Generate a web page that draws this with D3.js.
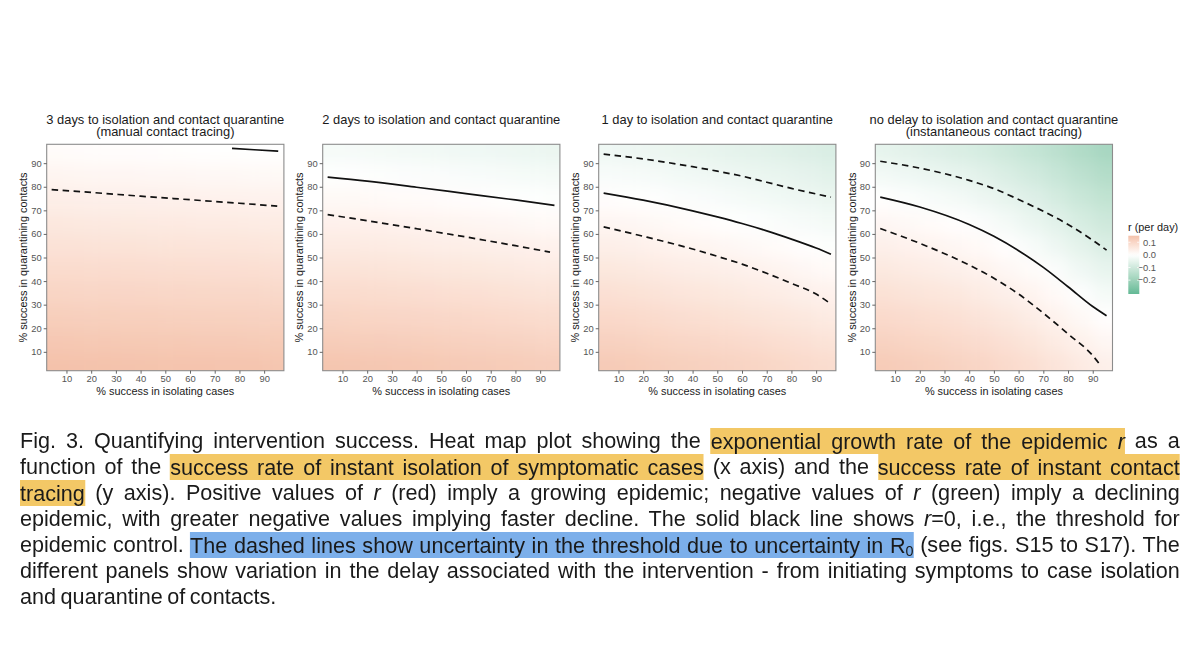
<!DOCTYPE html>
<html>
<head>
<meta charset="utf-8">
<script src="https://cdn.jsdelivr.net/npm/d3@7"></script>
<style>
  html, body { margin: 0; padding: 0; background: #ffffff; }
  body { width: 1200px; height: 659px; position: relative; overflow: hidden; }
  #chart { position: absolute; left: 0; top: 0; }
  #caption { position: absolute; left: 20px; top: 428px; width: 1208px; transform: scaleX(0.96); transform-origin: 0 0;
             font-family: "Liberation Sans", Arial, sans-serif; font-size: 22.5px; color: #1a1a1a; word-spacing: -1.5px; }
  #caption .ln { height: 26px; line-height: 26px; white-space: nowrap; text-align: justify; text-align-last: justify; }
  #caption .ln.last { text-align-last: left; }
  #caption .y { background: #f3c866; padding: 0.5px 0; }
  #caption .b { background: #7cafea; padding: 0.5px 0; }
  #caption sub { font-size: 15px; vertical-align: -3px; line-height: 0; }
</style>
</head>
<body>
<svg id="chart" width="1200" height="659"></svg>
<div id="caption"></div>
<script>
// ---------------- data ----------------
const xTicks = [10, 20, 30, 40, 50, 60, 70, 80, 90];
const yTicks = [10, 20, 30, 40, 50, 60, 70, 80, 90];
const legendTicks = [0.1, 0.0, -0.1, -0.2];
const legendLabels = ["0.1", "0.0", "\u22120.1", "\u22120.2"];

const panelTitles = [
  ["3 days to isolation and contact quarantine", "(manual contact tracing)"],
  ["2 days to isolation and contact quarantine"],
  ["1 day to isolation and contact quarantine"],
  ["no delay to isolation and contact quarantine", "(instantaneous contact tracing)"]
];

// heat-map grid (centres), rows listed from top (y=95) to bottom (y=5)
const gridX = [5, 15, 25, 35, 45, 55, 65, 75, 85, 95];
const gridY = [95, 85, 75, 65, 55, 45, 35, 25, 15, 5];

const rPanel1 = [
  [0.008, 0.007, 0.006, 0.005, 0.004, 0.003, 0.002, 0.001, 0.000, -0.001],
  [0.024, 0.023, 0.022, 0.021, 0.020, 0.019, 0.018, 0.017, 0.016, 0.015],
  [0.040, 0.039, 0.038, 0.037, 0.036, 0.035, 0.034, 0.033, 0.032, 0.031],
  [0.056, 0.055, 0.054, 0.053, 0.052, 0.051, 0.050, 0.049, 0.048, 0.047],
  [0.072, 0.071, 0.070, 0.069, 0.068, 0.067, 0.066, 0.065, 0.064, 0.063],
  [0.088, 0.087, 0.086, 0.085, 0.084, 0.083, 0.082, 0.081, 0.080, 0.079],
  [0.104, 0.103, 0.102, 0.101, 0.100, 0.099, 0.098, 0.097, 0.096, 0.095],
  [0.120, 0.119, 0.118, 0.117, 0.116, 0.115, 0.114, 0.113, 0.112, 0.111],
  [0.136, 0.135, 0.134, 0.133, 0.132, 0.131, 0.130, 0.129, 0.128, 0.127],
  [0.152, 0.151, 0.150, 0.149, 0.148, 0.147, 0.146, 0.145, 0.144, 0.143]
];
const rPanel2 = [
  [-0.020, -0.021, -0.023, -0.025, -0.027, -0.030, -0.032, -0.035, -0.038, -0.041],
  [-0.002, -0.003, -0.005, -0.007, -0.009, -0.012, -0.014, -0.017, -0.020, -0.023],
  [0.016, 0.015, 0.013, 0.011, 0.009, 0.006, 0.004, 0.001, -0.002, -0.005],
  [0.034, 0.033, 0.031, 0.029, 0.027, 0.024, 0.022, 0.019, 0.016, 0.013],
  [0.052, 0.051, 0.049, 0.047, 0.045, 0.042, 0.040, 0.037, 0.034, 0.031],
  [0.070, 0.069, 0.067, 0.065, 0.063, 0.060, 0.058, 0.055, 0.052, 0.049],
  [0.088, 0.087, 0.085, 0.083, 0.081, 0.078, 0.076, 0.073, 0.070, 0.067],
  [0.106, 0.105, 0.103, 0.101, 0.099, 0.096, 0.094, 0.091, 0.088, 0.085],
  [0.124, 0.123, 0.121, 0.119, 0.117, 0.114, 0.112, 0.109, 0.106, 0.103],
  [0.142, 0.141, 0.139, 0.137, 0.135, 0.132, 0.130, 0.127, 0.124, 0.121]
];
const rPanel3 = [
  [-0.032, -0.035, -0.039, -0.044, -0.048, -0.053, -0.058, -0.064, -0.070, -0.077],
  [-0.014, -0.017, -0.021, -0.026, -0.030, -0.035, -0.040, -0.046, -0.052, -0.059],
  [0.004, 0.001, -0.003, -0.008, -0.012, -0.017, -0.022, -0.028, -0.034, -0.041],
  [0.022, 0.019, 0.015, 0.010, 0.006, 0.001, -0.004, -0.010, -0.016, -0.023],
  [0.040, 0.037, 0.033, 0.028, 0.024, 0.019, 0.014, 0.008, 0.002, -0.005],
  [0.058, 0.055, 0.051, 0.046, 0.042, 0.037, 0.032, 0.026, 0.020, 0.013],
  [0.076, 0.073, 0.069, 0.064, 0.060, 0.055, 0.050, 0.044, 0.038, 0.031],
  [0.094, 0.091, 0.087, 0.082, 0.078, 0.073, 0.068, 0.062, 0.056, 0.049],
  [0.112, 0.109, 0.105, 0.100, 0.096, 0.091, 0.086, 0.080, 0.074, 0.067],
  [0.130, 0.127, 0.123, 0.118, 0.114, 0.109, 0.104, 0.098, 0.092, 0.085]
];
const rPanel4 = [
  [-0.051, -0.058, -0.066, -0.075, -0.086, -0.101, -0.118, -0.138, -0.160, -0.179],
  [-0.025, -0.032, -0.040, -0.049, -0.060, -0.075, -0.092, -0.112, -0.134, -0.153],
  [0.001, -0.006, -0.014, -0.023, -0.034, -0.049, -0.066, -0.086, -0.108, -0.127],
  [0.019, 0.014, 0.008, 0.002, -0.008, -0.023, -0.040, -0.060, -0.082, -0.101],
  [0.037, 0.032, 0.026, 0.020, 0.012, 0.002, -0.014, -0.034, -0.056, -0.075],
  [0.055, 0.050, 0.044, 0.038, 0.030, 0.020, 0.008, -0.008, -0.030, -0.049],
  [0.073, 0.068, 0.062, 0.056, 0.048, 0.038, 0.026, 0.012, -0.004, -0.023],
  [0.091, 0.086, 0.080, 0.074, 0.066, 0.056, 0.044, 0.030, 0.015, 0.002],
  [0.109, 0.104, 0.098, 0.092, 0.084, 0.074, 0.062, 0.048, 0.033, 0.020],
  [0.127, 0.122, 0.116, 0.110, 0.102, 0.092, 0.080, 0.066, 0.051, 0.038]
];

// threshold lines: solid r = 0, dashed = uncertainty in R0
const p1SolidX = [77, 86, 95.7];
const p1SolidY = [96.3, 95.7, 95.1];
const p1DashX = [4, 20, 40, 60, 80, 95.3];
const p1DashY = [78.8, 77.6, 76.0, 74.5, 73.0, 71.8];

const p2SolidX = [4, 20, 40, 60, 80, 95.8];
const p2SolidY = [84.1, 82.4, 79.8, 77.1, 74.4, 72.1];
const p2DashX = [4, 20, 40, 60, 80, 94];
const p2DashY = [68.2, 65.6, 62.2, 58.7, 55.0, 52.3];

const p3SolidX = [4, 20, 40, 50, 60, 70, 80, 90, 96];
const p3SolidY = [77.3, 74.3, 69.8, 67.2, 64.4, 61.3, 57.8, 54.0, 51.4];
const p3DashHiX = [4, 20, 40, 50, 60, 70, 80, 96];
const p3DashHiY = [93.8, 91.8, 88.5, 86.6, 84.5, 81.9, 79.3, 75.6];
const p3DashLoX = [4, 20, 40, 50, 60, 70, 80, 90, 95];
const p3DashLoY = [63.0, 59.0, 53.6, 50.5, 47.2, 43.3, 39.0, 34.5, 31.0];

const p4SolidX = [4, 20, 40, 50, 60, 70, 80, 90, 95.6];
const p4SolidY = [75.6, 71.4, 64.0, 59.0, 52.9, 45.8, 37.6, 29.2, 25.3];
const p4DashHiX = [4, 20, 40, 50, 60, 70, 80, 90, 95.6];
const p4DashHiY = [90.8, 87.9, 82.7, 79.2, 74.6, 69.6, 64.0, 57.3, 53.1];
const p4DashLoX = [4, 20, 40, 50, 60, 70, 80, 90, 93.2];
const p4DashLoY = [62.3, 56.0, 46.8, 41.2, 34.5, 26.4, 17.6, 8.4, 4.2];

const panels = [
  { grid: rPanel1, lines: [[p1SolidX, p1SolidY, false], [p1DashX, p1DashY, true]] },
  { grid: rPanel2, lines: [[p2SolidX, p2SolidY, false], [p2DashX, p2DashY, true]] },
  { grid: rPanel3, lines: [[p3SolidX, p3SolidY, false], [p3DashHiX, p3DashHiY, true], [p3DashLoX, p3DashLoY, true]] },
  { grid: rPanel4, lines: [[p4SolidX, p4SolidY, false], [p4DashHiX, p4DashHiY, true], [p4DashLoX, p4DashLoY, true]] }
];

// ---------------- layout ----------------
const FONT = '"Liberation Sans", Arial, Helvetica, sans-serif';
const panelLefts = [46.7, 322.7, 598.7, 875.3];
const plotW = 237.2, plotTop = 144.3, plotBottom = 370.7;
const rMin = -0.31, rMax = 0.152;

const color = d3.scaleLinear()
  .domain([rMin, 0, rMax])
  .range(["#63b995", "#ffffff", "#f4c2ab"])
  .interpolate(d3.interpolateLab);

const svg = d3.select("#chart");
svg.append("rect").attr("width", 1200).attr("height", 659).attr("fill", "#ffffff");
const defs = svg.append("defs");
const filt = defs.append("filter").attr("id", "smooth")
  .attr("x", "-20%").attr("y", "-20%").attr("width", "140%").attr("height", "140%");
filt.append("feGaussianBlur").attr("stdDeviation", 8);

panels.forEach((p, i) => {
  const left = panelLefts[i];
  const xs = d3.scaleLinear().domain([2, 98]).range([left, left + plotW]);
  const ys = d3.scaleLinear().domain([2, 98]).range([plotBottom, plotTop]);

  defs.append("clipPath").attr("id", "clip" + i)
    .append("rect").attr("x", left).attr("y", plotTop)
    .attr("width", plotW).attr("height", plotBottom - plotTop);

  const g = svg.append("g");

  // heat map cells
  const cells = [];
  p.grid.forEach((row, ri) => row.forEach((v, ci) => {
    const gx = gridX[ci], gy = gridY[ri];
    cells.push({
      x0: ci === 0 ? -30 : gx - 5, x1: ci === gridX.length - 1 ? 130 : gx + 5,
      y0: ri === gridY.length - 1 ? -30 : gy - 5, y1: ri === 0 ? 130 : gy + 5, v
    });
  }));
  g.append("g").attr("clip-path", `url(#clip${i})`)
    .append("g").attr("filter", "url(#smooth)")
    .selectAll("rect").data(cells).join("rect")
    .attr("x", d => xs(d.x0)).attr("y", d => ys(d.y1))
    .attr("width", d => xs(d.x1) - xs(d.x0) + 0.5)
    .attr("height", d => ys(d.y0) - ys(d.y1) + 0.5)
    .attr("fill", d => color(d.v));

  // threshold lines
  const lineGen = d3.line().x(d => xs(d[0])).y(d => ys(d[1])).curve(d3.curveMonotoneX);
  const lg = g.append("g").attr("clip-path", `url(#clip${i})`);
  p.lines.forEach(([lx, ly, dashed]) => {
    lg.append("path")
      .datum(lx.map((x, k) => [x, ly[k]]))
      .attr("d", lineGen)
      .attr("fill", "none").attr("stroke", "#111111")
      .attr("stroke-width", 1.7)
      .attr("stroke-dasharray", dashed ? "6.5,4.5" : null);
  });

  // border
  g.append("rect").attr("x", left).attr("y", plotTop)
    .attr("width", plotW).attr("height", plotBottom - plotTop)
    .attr("fill", "none").attr("stroke", "#8c8c8c").attr("stroke-width", 1.1);

  // axes
  const xAxis = g.append("g").attr("transform", `translate(0,${plotBottom})`)
    .call(d3.axisBottom(xs).tickValues(xTicks).tickSize(3).tickPadding(1.5));
  const yAxis = g.append("g").attr("transform", `translate(${left},0)`)
    .call(d3.axisLeft(ys).tickValues(yTicks).tickSize(3).tickPadding(2));
  [xAxis, yAxis].forEach(a => {
    a.select(".domain").remove();
    a.selectAll(".tick line").attr("stroke", "#555555").attr("stroke-width", 0.9);
    a.selectAll(".tick text").attr("fill", "#555555")
      .attr("font-family", FONT).attr("font-size", 9.4);
  });

  // axis titles
  g.append("text").attr("x", left + plotW / 2).attr("y", 395)
    .attr("text-anchor", "middle").attr("font-family", FONT).attr("font-size", 10.9)
    .attr("fill", "#1a1a1a").text("% success in isolating cases");
  g.append("text")
    .attr("transform", `translate(${left - 19.6},${(plotTop + plotBottom) / 2}) rotate(-90)`)
    .attr("text-anchor", "middle").attr("font-family", FONT).attr("font-size", 10.9)
    .attr("fill", "#1a1a1a").text("% success in quarantining contacts");

  // panel titles
  panelTitles[i].forEach((t, k) => {
    g.append("text").attr("x", left + plotW / 2).attr("y", 123.6 + k * 12.8)
      .attr("text-anchor", "middle").attr("font-family", FONT).attr("font-size", 12.9)
      .attr("fill", "#1a1a1a").text(t);
  });
});

// ---------------- legend ----------------
const lgX = 1128.3, lgW = 11, lgTop = 235.7, lgBottom = 294;
const ls = d3.scaleLinear().domain([rMin, rMax]).range([lgBottom, lgTop]);
const grad = defs.append("linearGradient").attr("id", "lgrad")
  .attr("x1", 0).attr("y1", 1).attr("x2", 0).attr("y2", 0);
d3.range(0, 1.0001, 0.05).forEach(t => {
  grad.append("stop").attr("offset", t).attr("stop-color", color(rMin + t * (rMax - rMin)));
});
svg.append("text").attr("x", 1128).attr("y", 230.6).attr("font-family", FONT)
  .attr("font-size", 10.9).attr("fill", "#1a1a1a").text("r (per day)");
svg.append("rect").attr("x", lgX).attr("y", lgTop).attr("width", lgW)
  .attr("height", lgBottom - lgTop).attr("fill", "url(#lgrad)");
svg.append("g").selectAll("text").data(legendTicks).join("text")
  .attr("x", 1156).attr("y", d => ls(d)).attr("dy", "0.35em")
  .attr("text-anchor", "end").attr("font-family", FONT).attr("font-size", 9.4)
  .attr("fill", "#555555").text((d, k) => legendLabels[k]);
svg.append("g").selectAll("line").data(legendTicks).join("line")
  .attr("x1", lgX).attr("x2", lgX + 2.2).attr("y1", d => ls(d)).attr("y2", d => ls(d))
  .attr("stroke", "#ffffff").attr("stroke-width", 0.8);
svg.append("g").selectAll("line").data(legendTicks).join("line")
  .attr("x1", lgX + lgW - 2.2).attr("x2", lgX + lgW).attr("y1", d => ls(d)).attr("y2", d => ls(d))
  .attr("stroke", "#ffffff").attr("stroke-width", 0.8);

// ---------------- caption ----------------
const captionLines = [
  'Fig. 3. Quantifying intervention success. Heat map plot showing the <span class="y">exponential growth rate of the epidemic <i>r</i></span> as a',
  'function of the <span class="y">success rate of instant isolation of symptomatic cases</span> (x axis) and the <span class="y">success rate of instant contact</span>',
  '<span class="y">tracing</span> (y axis). Positive values of <i>r</i> (red) imply a growing epidemic; negative values of <i>r</i> (green) imply a declining',
  'epidemic, with greater negative values implying faster decline. The solid black line shows <i>r</i>=0, i.e., the threshold for',
  'epidemic control. <span class="b">The dashed lines show uncertainty in the threshold due to uncertainty in R<sub>0</sub></span> (see figs. S15 to S17). The',
  'different panels show variation in the delay associated with the intervention - from initiating symptoms to case isolation',
  'and quarantine of contacts.'
];
d3.select("#caption").selectAll("div").data(captionLines).join("div")
  .attr("class", (d, k) => k === captionLines.length - 1 ? "ln last" : "ln")
  .html(d => d);
</script>
</body>
</html>
